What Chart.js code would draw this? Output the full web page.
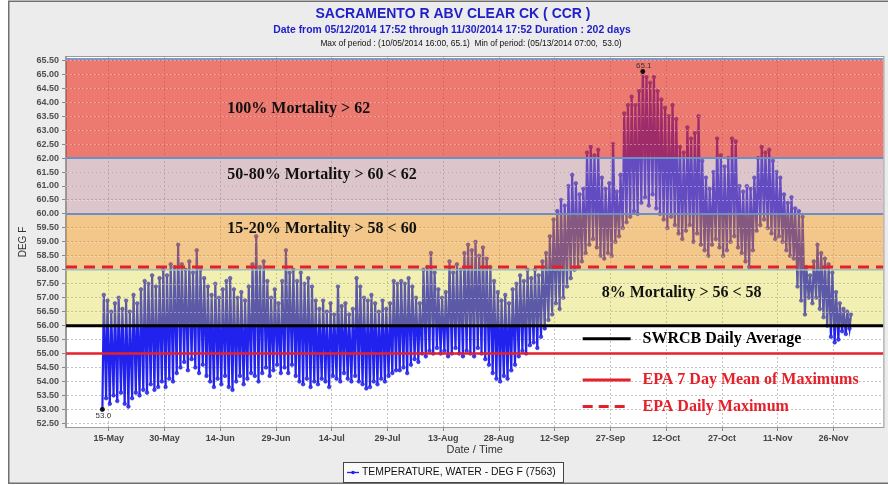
<!DOCTYPE html>
<html><head><meta charset="utf-8">
<script src="https://cdn.jsdelivr.net/npm/chart.js@4.4.1/dist/chart.umd.min.js"></script>
<style>html,body{margin:0;padding:0;background:#fff;overflow:hidden}</style>
</head><body>
<canvas id="c" width="888" height="485"></canvas>
<script>
// ---------------- DATA ----------------
// day index 0 = 12-May-2014; daily minimum (~07:00) and maximum (~16:00), deg F
const mayMax = [57.1,56.9,56.5,56.8,57.0,56.6,56.9,56.5,57.1,56.8,57.3,57.6,57.5,57.8,57.4,57.7,58.0,57.8,58.2];
const mayMin = [53.0,53.4,53.2,53.5,53.3,53.6,53.2,53.1,53.4,53.6,53.5,53.7,53.6,53.9,53.7,53.8,54.0,53.8,54.1];
const junMax = [58.1,58.9,58.2,58.0,58.3,57.9,58.7,58.0,57.7,57.4,57.1,57.5,57.0,57.3,57.6,57.7,57.3,57.0,57.2,56.9,57.4,58.2,59.2,58.1,58.3,57.6,57.0,57.3,56.8,57.6];
const junMin = [54.0,54.3,54.5,54.7,54.4,54.8,54.5,54.3,54.6,54.2,54.0,53.8,54.1,53.9,54.2,53.8,53.7,54.0,54.2,53.9,54.1,54.3,54.2,54.0,54.3,54.5,54.2,54.4,54.6,54.3];
const julMax = [58.7,57.9,58.0,57.6,57.9,57.5,57.7,57.4,56.9,56.6,56.9,56.5,56.8,56.4,57.4,56.7,56.8,56.4,56.6,57.7,57.4,57.0,56.9,57.1,56.8,56.5,56.9,56.6,56.8,57.6,57.5];
const julMin = [54.5,54.3,54.6,54.2,54.0,53.9,54.1,53.8,54.0,53.9,54.1,54.0,53.8,54.2,54.1,54.0,54.3,54.1,54.0,54.2,54.0,53.9,53.75,53.8,54.0,53.9,54.1,54.0,54.2,54.3,54.4];
const augMax = [57.6,57.5,57.7,57.4,57.0,56.8,58.0,58.1,58.6,57.9,57.3,57.0,57.2,58.3,57.9,58.2,58.0,58.6,58.9,58.7,59.0,58.5,58.8,58.4,58.1,57.6,57.2,56.9,57.1,56.8,57.3];
const augMin = [54.4,54.5,54.3,54.6,54.8,54.7,55.0,54.9,55.1,55.0,55.2,55.0,55.1,54.9,55.0,55.2,55.0,54.9,55.1,55.0,54.9,55.2,55.0,54.8,54.6,54.3,54.1,54.0,54.2,54.1,54.4];
const sepMax = [57.5,57.8,57.6,58.0,57.7,58.0,57.8,58.3,58.6,59.2,59.8,60.1,60.5,60.3,61.0,61.4,61.1,60.7,60.9,62.2,62.4,62.1,62.3,61.3,60.9,61.1,62.5,60.8,61.4,63.6];
const sepMin = [54.6,54.9,55.1,55.0,55.3,55.4,55.2,55.6,55.9,56.2,56.4,56.8,56.6,57.0,57.4,57.7,58.0,58.1,58.3,58.6,58.9,59.1,58.8,58.5,58.4,58.6,58.5,59.0,59.2,59.5];
const octMax = [63.9,64.2,63.9,64.4,65.1,64.9,64.7,64.9,64.4,64.1,63.8,63.5,63.9,63.4,62.4,62.2,63.1,62.7,62.9,63.5,61.9,61.3,60.9,61.5,62.7,62.1,61.7,62.0,62.7,62.6,61.0];
const octMin = [59.7,59.9,60.1,60.0,60.4,60.6,60.3,60.7,60.2,60.0,59.8,59.5,59.9,59.6,59.3,59.1,59.4,59.6,59.0,59.3,58.9,58.7,58.5,58.9,59.1,58.8,58.5,58.7,59.0,59.2,58.8];
const novMax = [60.8,61.0,60.9,61.3,62.0,62.4,62.2,62.3,61.9,61.5,61.3,60.7,60.4,60.6,60.2,60.1,59.9,58.1,57.8,58.3,58.9,58.6,58.4,58.2,57.9,57.2,56.8,56.6,56.5,56.4];
const novMin = [58.6,58.3,58.1,58.7,59.4,59.6,59.8,59.5,59.3,59.1,59.2,59.0,58.7,58.5,58.4,57.4,56.9,56.4,57.0,56.8,57.0,56.6,56.3,56.0,55.6,55.4,55.5,55.8,55.7,55.9];

const minHour = 7, maxHour = 16;          // time of day of daily min / max
const seriesLabel = "TEMPERATURE, WATER - DEG F (7563)";

const xTickDays   = [3,18,33,48,63,78,93,108,123,138,153,168,183,198];
const xTickLabels = ["15-May","30-May","14-Jun","29-Jun","14-Jul","29-Jul","13-Aug","28-Aug","12-Sep","27-Sep","12-Oct","27-Oct","11-Nov","26-Nov"];
const yTicks = [52.5,53,53.5,54,54.5,55,55.5,56,56.5,57,57.5,58,58.5,59,59.5,60,60.5,61,61.5,62,62.5,63,63.5,64,64.5,65,65.5];

const bandLow    = [56, 58, 60, 62];
const bandHigh   = [58, 60, 62, 65.55];
const bandLabels = ["8% Mortality > 56 < 58","15-20% Mortality > 58 < 60","50-80% Mortality > 60 < 62","100% Mortality > 62"];

const swrcbDailyAvg = 56.0;
const epa7DayMeanMax = 55.0;
const epaDailyMax = 58.1;
const criteriaLabels = ["SWRCB Daily Average","EPA 7 Day Mean of Maximums","EPA Daily Maximum"];

const titleLines = [
  "SACRAMENTO R ABV CLEAR CK ( CCR )",
  "Date from 05/12/2014 17:52 through 11/30/2014 17:52 Duration : 202 days",
  "Max of period : (10/05/2014 16:00, 65.1)  Min of period: (05/13/2014 07:00,  53.0)"
];

// ---------------- BUILD ----------------
const dailyMax = [].concat(mayMax, junMax, julMax, augMax, sepMax, octMax, novMax);
const dailyMin = [].concat(mayMin, junMin, julMin, augMin, sepMin, octMin, novMin);
const points = [];
dailyMin.forEach((mn, k) => {
  const d = k + 1;
  points.push({x: d + minHour / 24, y: mn});
  points.push({x: d + maxHour / 24, y: dailyMax[k]});
});

// ---------------- STYLE ----------------
const bandFill = ['rgba(215,205,20,0.32)','rgba(231,141,19,0.5)','rgba(179,128,139,0.45)','rgba(226,50,35,0.65)'];
const bandLabelPos = [[135.6,57.19],[34.9,59.47],[34.9,61.40],[34.9,63.76]]; // [day, degF]
const serif = '"Liberation Serif","Times New Roman",serif';
const sans = '"Liberation Sans",Arial,sans-serif';

const decor = {
  id: 'decor',
  beforeDraw(chart) {
    const {ctx, chartArea: a, width, height} = chart;
    ctx.save();
    ctx.fillStyle = '#ffffff'; ctx.fillRect(0, 0, width, height);
    ctx.fillStyle = '#ececec'; ctx.fillRect(8, 1, width - 8, height - 3);
    ctx.strokeStyle = '#707070'; ctx.lineWidth = 1.5;
    ctx.strokeRect(8.75, 1.25, width, height - 3);
    ctx.fillStyle = '#ffffff'; ctx.fillRect(a.left, a.top, a.right - a.left, a.bottom - a.top);
    ctx.restore();
  },
  afterDatasetsDraw(chart) {
    const {ctx, chartArea: a} = chart;
    const xs = chart.scales.x, ys = chart.scales.y;
    ctx.save();
    ctx.beginPath(); ctx.rect(a.left, a.top, a.right - a.left, a.bottom - a.top); ctx.clip();
    // mortality bands (translucent over the series)
    bandLow.forEach((lo, i) => {
      const t = ys.getPixelForValue(bandHigh[i]), b = ys.getPixelForValue(lo);
      ctx.fillStyle = bandFill[i];
      ctx.fillRect(a.left, t, a.right - a.left, b - t);
    });
    // faint dotted grid showing through the bands
    ctx.strokeStyle = 'rgba(255,255,255,0.35)'; ctx.lineWidth = 1; ctx.setLineDash([2, 2]);
    yTicks.forEach(v => {
      if (v <= bandLow[0]) return;
      const y = Math.round(ys.getPixelForValue(v)) + 0.5;
      ctx.beginPath(); ctx.moveTo(a.left, y); ctx.lineTo(a.right, y); ctx.stroke();
    });
    ctx.setLineDash([]);
    const hline = (v, color, w, dash) => {
      const y = ys.getPixelForValue(v);
      ctx.beginPath(); ctx.setLineDash(dash); ctx.strokeStyle = color; ctx.lineWidth = w;
      ctx.moveTo(a.left, y); ctx.lineTo(a.right, y); ctx.stroke();
    };
    hline(bandHigh[3], '#7b98c8', 2, []);
    hline(bandLow[3], '#6f8fc4', 2, []);
    hline(bandLow[2], '#6f8fc4', 2, []);
    hline(bandLow[1], '#86c0c8', 1.2, []);
    hline(swrcbDailyAvg, '#000000', 3, []);
    hline(epa7DayMeanMax, '#e5202a', 2.5, []);
    hline(epaDailyMax, '#e5202a', 3, [11, 7]);
    ctx.setLineDash([]);
    // extreme markers
    let iMin = 0, iMax = 0;
    points.forEach((p, i) => { if (p.y < points[iMin].y) iMin = i; if (p.y > points[iMax].y) iMax = i; });
    ctx.fillStyle = '#111';
    ctx.font = '8px ' + sans; ctx.textAlign = 'center';
    [[iMin, 1], [iMax, -1]].forEach(([i, dir]) => {
      const px = xs.getPixelForValue(points[i].x), py = ys.getPixelForValue(points[i].y);
      ctx.beginPath(); ctx.arc(px, py, 2.4, 0, Math.PI * 2); ctx.fill();
      ctx.fillStyle = '#333';
      ctx.textBaseline = dir > 0 ? 'top' : 'bottom';
      ctx.fillText(points[i].y.toFixed(1), px + 1, py + dir * 2);
      ctx.fillStyle = '#111';
    });
    ctx.restore();

    // band labels
    ctx.save();
    ctx.font = 'bold 16px ' + serif; ctx.fillStyle = '#111'; ctx.textBaseline = 'middle'; ctx.textAlign = 'left';
    bandLabels.forEach((t, i) => {
      ctx.fillText(t, xs.getPixelForValue(bandLabelPos[i][0]), ys.getPixelForValue(bandLabelPos[i][1]));
    });
    // criteria key
    const keyY = [55.53, 54.05, 53.1];
    const keyColor = ['#000000', '#e5202a', '#e5202a'];
    const keyDash = [[], [], [10, 6]];
    const kx0 = xs.getPixelForValue(130.5), kx1 = xs.getPixelForValue(143.4), tx = xs.getPixelForValue(146.6);
    criteriaLabels.forEach((t, i) => {
      const y = ys.getPixelForValue(keyY[i]);
      ctx.beginPath(); ctx.setLineDash(keyDash[i]); ctx.strokeStyle = keyColor[i]; ctx.lineWidth = 3;
      ctx.moveTo(kx0, y); ctx.lineTo(kx1, y); ctx.stroke();
      ctx.setLineDash([]);
      ctx.fillStyle = keyColor[i];
      ctx.fillText(t, tx, y);
    });
    ctx.restore();

    // plot frame
    ctx.save(); ctx.strokeStyle = '#9a9a9a'; ctx.lineWidth = 1;
    ctx.strokeRect(a.left - 0.5, a.top - 0.5, a.right - a.left + 1, a.bottom - a.top + 1);
    ctx.restore();
  },
  afterDraw(chart) {
    const {ctx} = chart;
    ctx.save();
    ctx.textAlign = 'center'; ctx.textBaseline = 'middle';
    ctx.fillStyle = '#2020c8'; ctx.font = 'bold 14px ' + sans; ctx.fillText(titleLines[0], 453, 14);
    ctx.font = 'bold 10.4px ' + sans; ctx.fillText(titleLines[1], 452, 30);
    ctx.fillStyle = '#111'; ctx.font = '8.4px ' + sans; ctx.fillText(titleLines[2], 471, 44);
    // legend
    ctx.fillStyle = '#fafafa'; ctx.fillRect(343, 462, 220, 20);
    ctx.strokeStyle = '#444'; ctx.lineWidth = 1; ctx.strokeRect(343.5, 462.5, 220, 20);
    ctx.strokeStyle = '#2323e6'; ctx.lineWidth = 1.3;
    ctx.beginPath(); ctx.moveTo(347, 472.5); ctx.lineTo(359, 472.5); ctx.stroke();
    ctx.fillStyle = '#2323e6'; ctx.beginPath(); ctx.arc(353, 472.5, 1.8, 0, Math.PI * 2); ctx.fill();
    ctx.fillStyle = '#111'; ctx.textAlign = 'left'; ctx.font = '10.4px ' + sans;
    ctx.fillText(seriesLabel, 362, 472.5);
    ctx.restore();
  }
};

new Chart(document.getElementById('c'), {
  type: 'line',
  data: { datasets: [{
    label: seriesLabel,
    data: points,
    borderColor: '#2222ee',
    borderWidth: 2.2,
    pointRadius: 1.8,
    pointBackgroundColor: '#3a3aff',
    pointBorderColor: '#1c1cc8',
    pointBorderWidth: 0.6,
    tension: 0
  }]},
  options: {
    responsive: false, animation: false, devicePixelRatio: 1,
    layout: { padding: { left: 8, right: 1, top: 57, bottom: 28 } },
    plugins: { legend: { display: false }, title: { display: false }, tooltip: { enabled: false } },
    scales: {
      x: {
        type: 'linear', min: -8.5, max: 211.4,
        afterBuildTicks: s => { s.ticks = xTickDays.map(v => ({value: v})); },
        afterFit: s => { s.height = 30; },
        ticks: { autoSkip: false, maxRotation: 0, padding: 2, color: '#444',
                 font: { family: sans, size: 9, weight: 'bold' },
                 callback: (v, i) => xTickLabels[i] },
        grid: { color: '#c4c4c4', tickLength: 4, tickColor: '#888' },
        border: { display: true, color: '#9a9a9a', dash: [2, 2] },
        title: { display: true, text: 'Date / Time', color: '#333', font: { family: sans, size: 11 }, padding: { top: 0, bottom: 0 } }
      },
      y: {
        type: 'linear', min: 52.37, max: 65.62,
        afterBuildTicks: s => { s.ticks = yTicks.map(v => ({value: v})); },
        afterFit: s => { s.width = 58; },
        ticks: { autoSkip: false, padding: 3, color: '#505050',
                 font: { family: sans, size: 9, weight: 'bold' },
                 callback: v => Number(v).toFixed(2) },
        grid: { color: '#c4c4c4', tickLength: 4, tickColor: '#888' },
        border: { display: true, color: '#9a9a9a', dash: [2, 2] },
        title: { display: true, text: 'DEG F', color: '#333', font: { family: sans, size: 10 }, padding: { top: 9, bottom: 0 } }
      }
    }
  },
  plugins: [decor]
});
</script>
</body></html>
